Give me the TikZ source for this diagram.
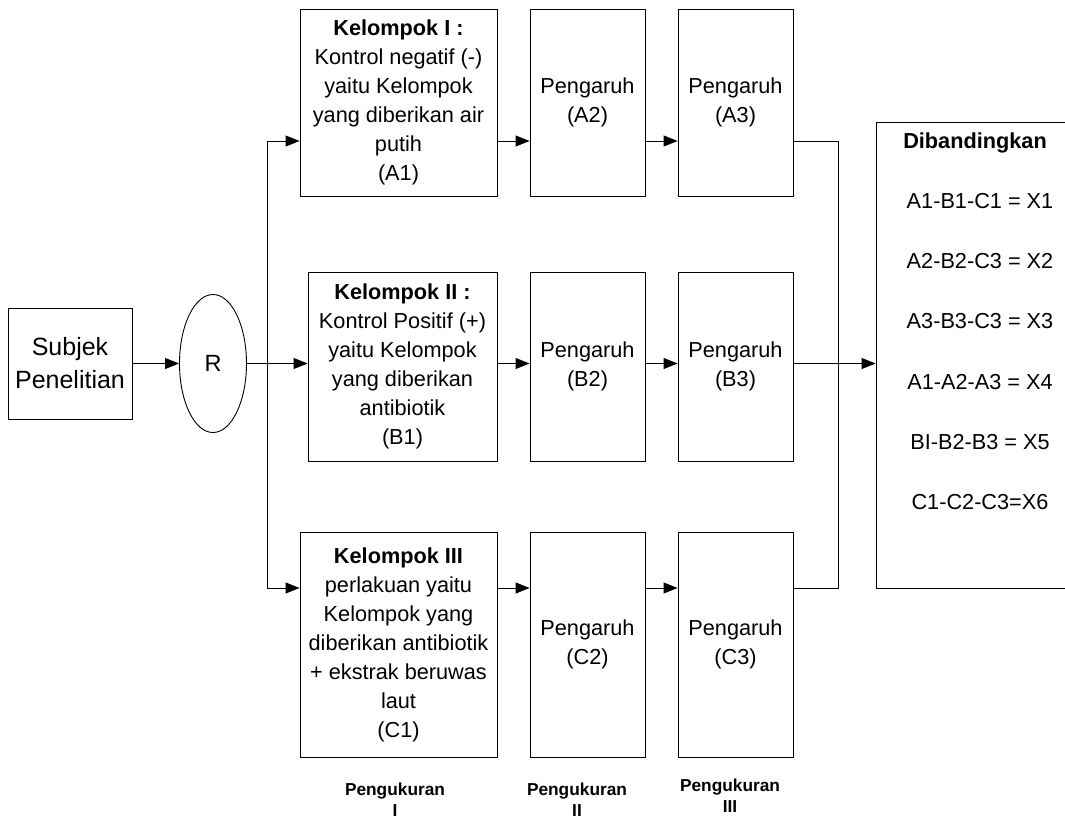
\documentclass[tikz,border=0pt]{standalone}
\usepackage{fontspec}
\setmainfont{Liberation Sans}
\usetikzlibrary{arrows.meta,shapes.geometric}
\tikzset{
  grpbox/.style   = {draw,line width=0.9pt,align=center,inner sep=0pt,
                     minimum width=197pt,font=\fontsize{21.7}{29}\selectfont},
  effbox/.style   = {grpbox,minimum width=115pt},
  flowarr/.style  = {-{Triangle[length=14pt,width=11pt]},line width=0.9pt},
  flowline/.style = {line width=0.9pt},
  steplabel/.style = {align=center,inner sep=0pt,anchor=north,
                     font=\bfseries\fontsize{17.3}{21}\selectfont}
}

\begin{document}
\begin{tikzpicture}[x=1pt,y=-1pt]
  \useasboundingbox (0,0) rectangle (1065,820);
  \clip (0,0) rectangle (1065,820);

  \node[draw,line width=0.9pt,minimum width=124pt,minimum height=111pt,align=center,
        inner sep=0pt,font=\fontsize{25}{33}\selectfont] (subjek) at (70,363.5) {Subjek\\Penelitian};
  \node[draw,ellipse,line width=0.9pt,minimum width=67pt,minimum height=138pt,inner sep=0pt,
        font=\fontsize{23.5}{26}\selectfont] (rnd) at (213,363.5) {R};

  \node[grpbox,minimum height=187pt] (kelA) at (398.5,102.5)
       {\textbf{Kelompok I :}\\Kontrol negatif (-)\\yaitu Kelompok\\yang diberikan air\\putih\\(A1)};
  \node[effbox,minimum height=187pt] (pengA2) at (587.5,102.5) {Pengaruh\\(A2)};
  \node[effbox,minimum height=187pt] (pengA3) at (735.5,102.5) {Pengaruh\\(A3)};

  \node[grpbox,minimum width=189pt,minimum height=189pt] (kelB) at (402.5,366.5)
       {\textbf{Kelompok II :}\\Kontrol Positif (+)\\yaitu Kelompok\\yang diberikan\\antibiotik\\(B1)};
  \node[effbox,minimum height=189pt] (pengB2) at (587.5,366.5) {Pengaruh\\(B2)};
  \node[effbox,minimum height=189pt] (pengB3) at (735.5,366.5) {Pengaruh\\(B3)};

  \node[grpbox,minimum height=225pt] (kelC) at (398.5,644.5)
       {\textbf{Kelompok III}\\perlakuan yaitu\\Kelompok yang\\diberikan antibiotik\\+ ekstrak beruwas\\laut\\(C1)};
  \node[effbox,minimum height=225pt] (pengC2) at (587.5,644.5) {Pengaruh\\(C2)};
  \node[effbox,minimum height=225pt] (pengC3) at (735.5,644.5) {Pengaruh\\(C3)};

  \node[draw,line width=0.9pt,minimum width=260pt,minimum height=466pt,inner sep=0pt] (banding) at (1006,355) {};
  \node[anchor=base,font=\bfseries\fontsize{21.7}{26}\selectfont] (bandtitle) at (975,148) {Dibandingkan};
  \foreach \t [count=\i] in {A1-B1-C1 = X1,A2-B2-C3 = X2,A3-B3-C3 = X3,A1-A2-A3 = X4,BI-B2-B3 = X5,C1-C2-C3=X6}
    \node[anchor=base,font=\fontsize{21.7}{26}\selectfont] (cmp\i) at (980,{148+60.3*\i}) {\t};

  \coordinate (ftop) at (267,141);
  \coordinate (fbot) at (267,588);
  \coordinate (join) at (838,363.5);

  \draw[flowarr] (subjek) -- (rnd);
  \draw[flowarr] (rnd) -- (rnd -| kelB.west);
  \draw[flowline] (ftop) -- (fbot);
  \draw[flowarr] (ftop) -- (ftop -| kelA.west);
  \draw[flowarr] (fbot) -- (fbot -| kelC.west);

  \foreach \g/\rowy in {A/141,B/363.5,C/588}{
    \coordinate (r\g) at (0,\rowy);
    \draw[flowarr] (r\g -| kel\g.east) -- (r\g -| peng\g2.west);
    \draw[flowarr] (r\g -| peng\g2.east) -- (r\g -| peng\g3.west);
  }
  \draw[flowline] (rA -| pengA3.east) -| (join) |- (rC -| pengC3.east);
  \draw[flowarr] (rB -| pengB3.east) -- (rB -| banding.west);

  \node[steplabel] (ukur1) at (395,783) {Pengukuran\\I};
  \node[steplabel] (ukur2) at (577,783) {Pengukuran\\II};
  \node[steplabel] (ukur3) at (730,779) {Pengukuran\\III};
\end{tikzpicture}
\end{document}
